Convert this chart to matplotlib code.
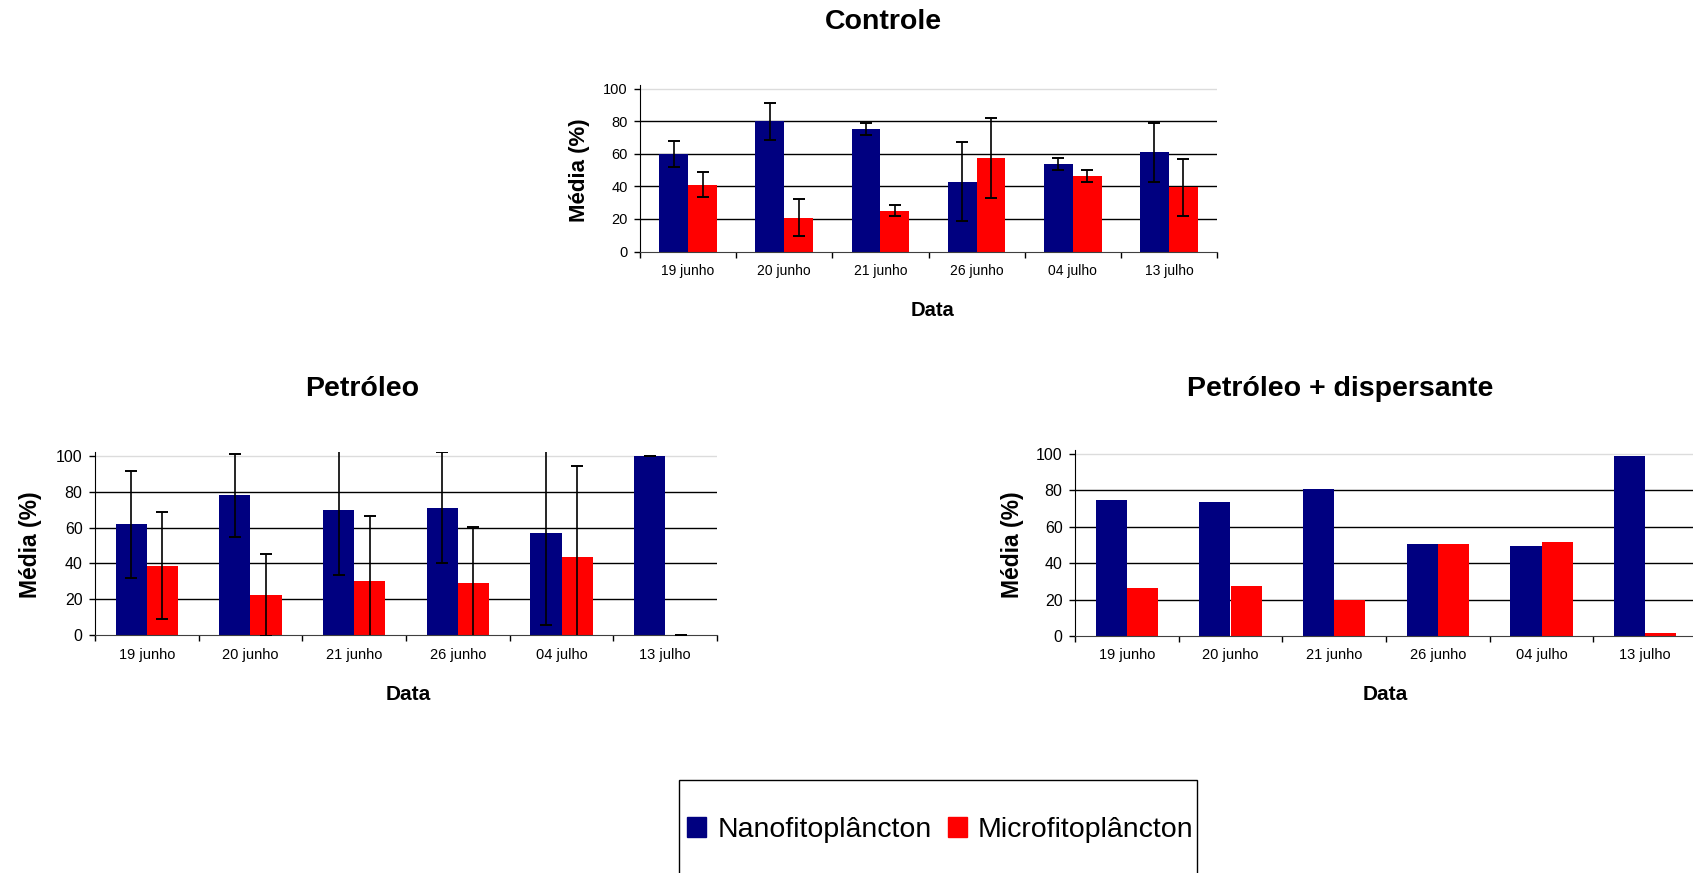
import matplotlib.pyplot as plt
import numpy as np
from matplotlib.patches import Rectangle

plt.rcParams['font.family'] = ['Liberation Sans', 'DejaVu Sans']

# Dados (média % e desvio padrão)
datas = ["19 junho", "20 junho", "21 junho", "26 junho", "04 julho", "13 julho"]

controle_nano = [60, 80, 75.3, 43, 53.8, 61]
controle_nano_dp = [7.8, 11.3, 3.8, 24.5, 3.6, 18]
controle_micro = [41, 20.7, 25.2, 57.5, 46.5, 39.5]
controle_micro_dp = [7.8, 11.3, 3.5, 24.5, 3.7, 17.6]

petroleo_nano = [61.8, 78, 70, 71, 57, 100]
petroleo_nano_dp = [30, 23, 36.4, 31, 51.3, 0]
petroleo_micro = [38.7, 22.4, 30.3, 29.3, 43.4, 0]
petroleo_micro_dp = [30, 23, 36, 31, 51, 0]

disp_nano = [74.5, 73.5, 81, 50.5, 49.5, 99]
disp_micro = [26.5, 27.5, 20, 50.5, 51.5, 1.5]

AZUL = '#000080'
VERMELHO = '#FF0000'
W, H = 1693, 873

fig = plt.figure(figsize=(W / 100, H / 100), dpi=100)


def eixo(left, right, y0, y100):
    unit = (y0 - y100) / 100
    top = y100 - 2.3 * unit
    return fig.add_axes([left / W, 1 - y0 / H, (right - left) / W, (y0 - top) / H])


def texto(x, y, s, **kw):
    fig.text(x / W, 1 - y / H, s, ha='center', va='center', **kw)


def painel(ax, nano, micro, nano_dp=None, micro_dp=None, fs_y=11.5, fs_x=10.5):
    x = np.arange(len(datas))
    w = 0.3
    ax.bar(x - w / 2, nano, w, color=AZUL, zorder=2)
    ax.bar(x + w / 2, micro, w, color=VERMELHO, zorder=2)
    if nano_dp is not None:
        kw = dict(fmt='none', ecolor='black', elinewidth=1.2, capsize=4, capthick=1.4, zorder=3)
        ax.errorbar(x - w / 2, nano, yerr=nano_dp, **kw)
        ax.errorbar(x + w / 2, micro, yerr=micro_dp, **kw)
    ax.set_xlim(-0.5, len(datas) - 0.5)
    ax.set_ylim(0, 102.3)
    ax.set_yticks(range(0, 101, 20))
    for v in (20, 40, 60, 80):
        ax.axhline(v, color='black', lw=1, zorder=1)
    ax.axhline(100, color='#dcdcdc', lw=1, zorder=1)
    ax.set_xticks(np.arange(-0.5, len(datas), 1))
    ax.set_xticklabels([])
    ax.set_xticks(x, minor=True)
    ax.set_xticklabels(datas, minor=True, fontsize=fs_x)
    ax.tick_params(axis='x', which='major', length=4, width=1, direction='out')
    ax.tick_params(axis='x', which='minor', length=0, pad=9)
    ax.tick_params(axis='y', length=4, width=1, pad=5, labelsize=fs_y)
    for s in ('top', 'right'):
        ax.spines[s].set_visible(False)
    ax.spines['left'].set_color('black')
    ax.spines['bottom'].set_color('#404040')


# Controle
ax1 = eixo(640, 1217, 251.6, 88.6)
painel(ax1, controle_nano, controle_micro, controle_nano_dp, controle_micro_dp, fs_y=10.5, fs_x=10)
texto(883, 22, "Controle", fontsize=20.5, fontweight='bold')
texto(933, 310, "Data", fontsize=14.5, fontweight='bold')
texto(579, 170, "Média (%)", fontsize=16, fontweight='bold', rotation=90)

# Petróleo
ax2 = eixo(95, 717, 635, 456)
painel(ax2, petroleo_nano, petroleo_micro, petroleo_nano_dp, petroleo_micro_dp)
texto(362, 389, "Petróleo", fontsize=20.5, fontweight='bold')
texto(408, 694, "Data", fontsize=15, fontweight='bold')
texto(30, 545, "Média (%)", fontsize=16.5, fontweight='bold', rotation=90)

# Petróleo + dispersante
ax3 = eixo(1075, 1697, 636, 454)
painel(ax3, disp_nano, disp_micro)
texto(1340, 389, "Petróleo + dispersante", fontsize=20.5, fontweight='bold')
texto(1385, 694, "Data", fontsize=15, fontweight='bold')
texto(1013, 545, "Média (%)", fontsize=16.5, fontweight='bold', rotation=90)

# Legenda
fig.add_artist(Rectangle((679 / W, -0.05), (1197 - 679) / W, 0.05 + 1 - 780 / H,
                         transform=fig.transFigure, facecolor='none', edgecolor='black', lw=1))
handles = [Rectangle((0, 0), 1, 1, color=AZUL), Rectangle((0, 0), 1, 1, color=VERMELHO)]
fig.legend(handles, ["Nanofitoplâncton", "Microfitoplâncton"], loc='center',
           bbox_to_anchor=(940.5 / W, 1 - 830 / H), ncol=2, frameon=False, fontsize=20.5,
           handlelength=0.67, handleheight=0.67, handletextpad=0.4, columnspacing=0.55,
           borderpad=0, borderaxespad=0)

fig.savefig("out.png", dpi=100)
